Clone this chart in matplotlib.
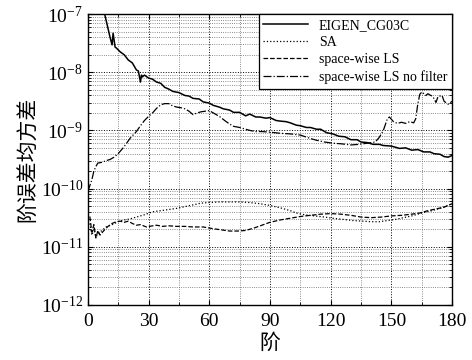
import matplotlib
matplotlib.use('Agg')
import matplotlib.pyplot as plt
from matplotlib.ticker import MultipleLocator, LogLocator, NullFormatter
import numpy as np

plt.rcParams['font.family'] = ['Liberation Serif', 'Noto Sans CJK SC']
plt.rcParams['mathtext.fontset'] = 'stix'

# degree / log10(degree error variance)
eigen_deg = [8, 9, 10, 11, 12, 12.5, 13, 13.5, 14, 16, 18, 20, 22, 24, 25, 26, 26.5, 27, 28, 30,
             32, 34, 36, 38, 40, 42, 45, 48, 50, 52, 55, 57, 60, 62, 65, 67, 70, 72, 75, 78,
             80, 83, 85, 88, 90, 93, 95, 98, 100, 103, 105, 108, 110, 113, 115, 118, 121, 124,
             127, 130, 133, 135, 138, 141, 144, 146, 150, 154, 157, 160, 163, 166, 169, 171,
             174, 176, 178, 180]
eigen_log = [-6.95, -7.1, -7.25, -7.40, -7.53, -7.33, -7.45, -7.57, -7.58, -7.65, -7.70, -7.79,
             -7.84, -7.96, -7.98, -8.17, -8.05, -8.08, -8.05, -8.10, -8.12, -8.17, -8.19, -8.26,
             -8.29, -8.33, -8.35, -8.40, -8.41, -8.45, -8.46, -8.51, -8.53, -8.57, -8.60, -8.63,
             -8.65, -8.69, -8.69, -8.75, -8.72, -8.77, -8.77, -8.79, -8.78, -8.83, -8.84, -8.85,
             -8.87, -8.91, -8.92, -8.95, -8.95, -8.98, -8.98, -9.04, -9.06, -9.10, -9.11, -9.16,
             -9.16, -9.20, -9.21, -9.24, -9.24, -9.26, -9.27, -9.31, -9.30, -9.34, -9.33, -9.37,
             -9.37, -9.40, -9.41, -9.45, -9.46, -9.43]

sa_deg = [1, 2, 3, 4, 6, 9, 12, 15, 18, 21, 24, 28, 32, 36, 40, 44, 48, 52, 56, 60, 65, 70, 75,
          80, 85, 90, 95, 100, 103, 107, 112, 117, 121, 126, 131, 136, 140, 144, 148, 152, 156,
          160, 165, 170, 175, 180]
sa_log = [-10.6, -10.8, -10.70, -10.83, -10.75, -10.66, -10.62, -10.57, -10.54, -10.52, -10.49,
          -10.45, -10.40, -10.38, -10.36, -10.34, -10.31, -10.28, -10.25, -10.24, -10.23, -10.23,
          -10.23, -10.24, -10.26, -10.29, -10.33, -10.38, -10.42, -10.45, -10.47, -10.49, -10.51,
          -10.53, -10.55, -10.56, -10.57, -10.57, -10.55, -10.53, -10.50, -10.47, -10.42, -10.38,
          -10.33, -10.26]

ls_deg = [1, 2, 3, 4, 5, 6, 8, 10, 12, 14, 16, 18, 20, 22, 24, 26, 29, 32, 34, 37, 40, 44, 48,
          52, 57, 62, 66, 70, 74, 78, 82, 86, 90, 95, 100, 105, 110, 115, 120, 125, 130, 135,
          140, 145, 150, 155, 160, 164, 168, 172, 176, 180]
ls_log = [-10.48, -10.75, -10.62, -10.85, -10.72, -10.80, -10.72, -10.65, -10.60, -10.57, -10.56,
          -10.58, -10.56, -10.60, -10.63, -10.62, -10.66, -10.64, -10.63, -10.65, -10.64, -10.65,
          -10.65, -10.66, -10.66, -10.69, -10.71, -10.73, -10.73, -10.72, -10.68, -10.63, -10.58,
          -10.54, -10.51, -10.48, -10.46, -10.44, -10.43, -10.44, -10.46, -10.49, -10.50, -10.49,
          -10.47, -10.46, -10.44, -10.42, -10.38, -10.35, -10.32, -10.26]

nf_deg = [0, 1, 2, 3, 4, 5, 7, 9, 11, 13, 15, 17, 19, 21, 24, 26, 28, 30, 32, 34, 36, 38, 40, 42,
          44, 46, 48, 50, 52, 54, 56, 58, 60, 62, 65, 68, 70, 72, 75, 78, 80, 83, 86, 90, 95,
          100, 105, 110, 113, 117, 121, 125, 130, 134, 138, 142, 144, 146, 148, 149, 151, 153,
          155, 157, 159, 161, 162, 163, 164, 165, 167, 168, 170, 171, 172, 173, 175, 176, 178, 180]
nf_log = [-10.05, -9.95, -9.85, -9.70, -9.62, -9.56, -9.55, -9.52, -9.50, -9.46, -9.40, -9.32,
          -9.23, -9.13, -9.02, -8.92, -8.83, -8.76, -8.70, -8.62, -8.56, -8.54, -8.54, -8.58,
          -8.60, -8.61, -8.63, -8.67, -8.73, -8.70, -8.68, -8.67, -8.66, -8.70, -8.76, -8.84,
          -8.89, -8.93, -8.95, -8.98, -9.00, -9.02, -9.02, -9.03, -9.05, -9.06, -9.08, -9.14,
          -9.17, -9.20, -9.22, -9.23, -9.25, -9.24, -9.22, -9.20, -9.12, -9.00, -8.80, -8.77,
          -8.85, -8.88, -8.86, -8.88, -8.85, -8.87, -8.80, -8.55, -8.38, -8.34, -8.40, -8.37,
          -8.41, -8.45, -8.52, -8.42, -8.40, -8.50, -8.55, -8.50]

labels = ['EIGEN_CG03C', 'SA', 'space-wise LS', 'space-wise LS no filter']

fig = plt.figure(figsize=(4.72, 3.6), dpi=100)
ax = fig.add_axes([0.186, 0.153, 0.772, 0.808])

ax.semilogy(eigen_deg, np.power(10.0, eigen_log), color='black', ls='-', lw=1.1, label=labels[0])
ax.semilogy(sa_deg, np.power(10.0, sa_log), color='black', ls=':', lw=0.9, label=labels[1])
ax.semilogy(ls_deg, np.power(10.0, ls_log), color='black', ls='--', lw=0.9, label=labels[2])
ax.semilogy(nf_deg, np.power(10.0, nf_log), color='black', ls='-.', lw=0.9, label=labels[3])

ax.set_xlim(0, 180)
ax.set_ylim(1e-12, 1e-7)
ax.xaxis.set_major_locator(MultipleLocator(30))
ax.xaxis.set_minor_locator(MultipleLocator(15))
ax.yaxis.set_major_locator(LogLocator(base=10, numticks=10))
ax.yaxis.set_minor_locator(LogLocator(base=10, subs=np.arange(2, 10), numticks=20))
ax.yaxis.set_minor_formatter(NullFormatter())

ax.grid(True, which='major', ls=':', color='black', lw=0.7)
ax.grid(True, which='minor', ls=':', color='0.4', lw=0.6)
ax.tick_params(which='both', direction='in', top=True, right=True, labelsize=14)
ax.tick_params(axis='x', pad=6)
ax.tick_params(which='minor', length=2)
for s in ax.spines.values():
    s.set_linewidth(1.0)

ax.set_xlabel('阶', fontsize=15, family=['Noto Sans CJK SC'], labelpad=1)
ax.set_ylabel('阶误差均方差', fontsize=15, family=['Noto Sans CJK SC'], labelpad=2)

leg = ax.legend(loc='upper right', fontsize=10, fancybox=False, edgecolor='black',
                framealpha=1, borderaxespad=0, handlelength=3.2, labelspacing=0.3,
                borderpad=0.35)
leg.get_frame().set_linewidth(0.9)

fig.savefig('out.png', dpi=100)
